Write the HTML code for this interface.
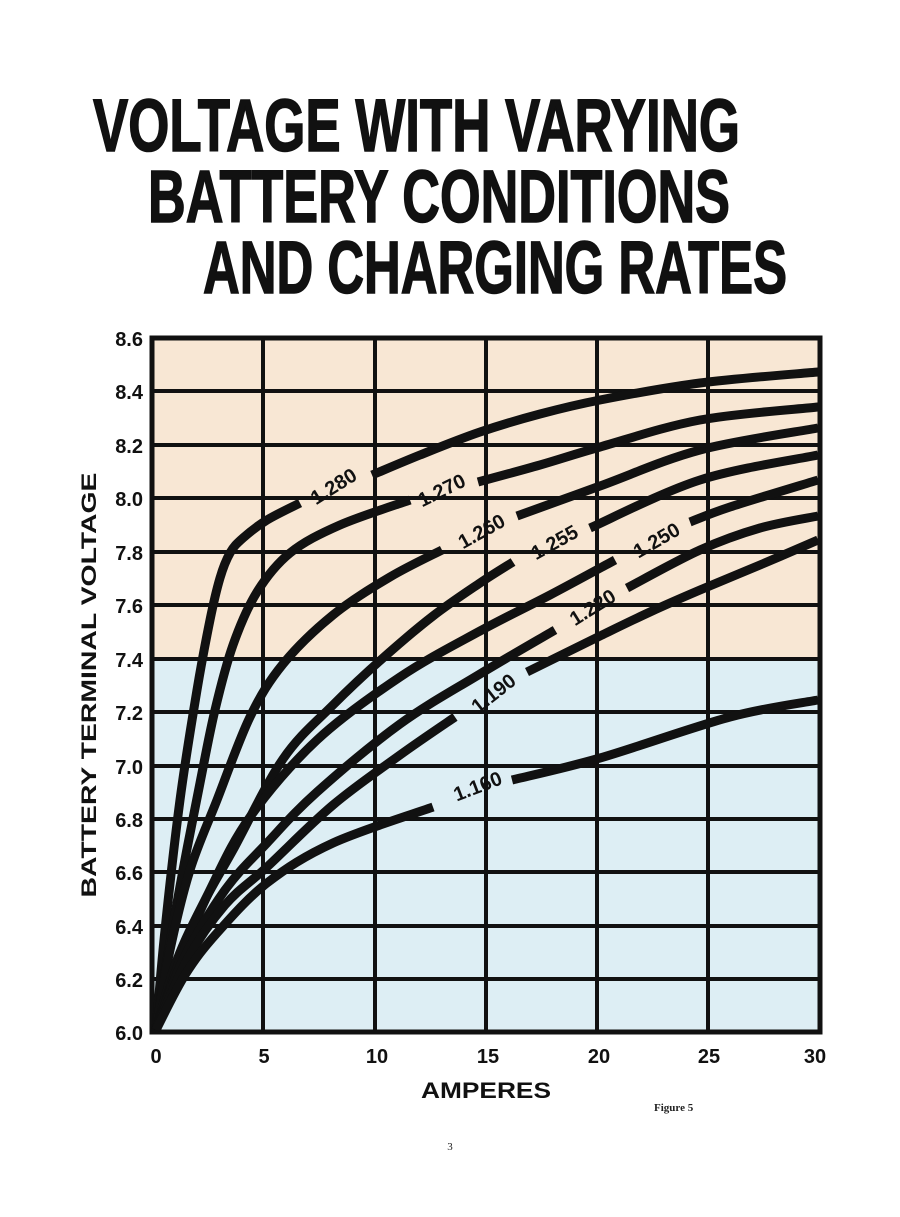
<!DOCTYPE html>
<html><head><meta charset="utf-8"><style>
html,body{margin:0;padding:0;background:#fff;}
svg{display:block;}
</style></head><body>
<svg id="s" width="900" height="1217" viewBox="0 0 900 1217" xmlns="http://www.w3.org/2000/svg">
<rect width="900" height="1217" fill="#fff"/>
<g font-family="Liberation Sans, sans-serif" font-weight="bold" fill="#111" stroke="#111" stroke-width="1.5">
<text x="93" y="151" font-size="74" textLength="647" lengthAdjust="spacingAndGlyphs">VOLTAGE WITH VARYING</text>
<text x="148" y="222" font-size="74" textLength="582" lengthAdjust="spacingAndGlyphs">BATTERY CONDITIONS</text>
<text x="203" y="293" font-size="74" textLength="584" lengthAdjust="spacingAndGlyphs">AND CHARGING RATES</text>
</g>
<rect x="152" y="338" width="668" height="321" fill="#f8e7d4"/>
<rect x="152" y="659" width="668" height="373" fill="#ddeef4"/>
<g stroke="#111" stroke-width="4">
<line x1="152" y1="391" x2="820" y2="391"/>
<line x1="152" y1="445" x2="820" y2="445"/>
<line x1="152" y1="498" x2="820" y2="498"/>
<line x1="152" y1="552" x2="820" y2="552"/>
<line x1="152" y1="605" x2="820" y2="605"/>
<line x1="152" y1="659" x2="820" y2="659"/>
<line x1="152" y1="712" x2="820" y2="712"/>
<line x1="152" y1="766" x2="820" y2="766"/>
<line x1="152" y1="819" x2="820" y2="819"/>
<line x1="152" y1="872" x2="820" y2="872"/>
<line x1="152" y1="926" x2="820" y2="926"/>
<line x1="152" y1="979" x2="820" y2="979"/>
<line x1="263" y1="338" x2="263" y2="1032"/>
<line x1="375" y1="338" x2="375" y2="1032"/>
<line x1="486" y1="338" x2="486" y2="1032"/>
<line x1="597" y1="338" x2="597" y2="1032"/>
<line x1="708" y1="338" x2="708" y2="1032"/>
</g>
<rect x="152" y="338" width="668" height="694" fill="none" stroke="#111" stroke-width="5"/>
<g id="curves" fill="none" stroke="#111" stroke-width="9" stroke-linejoin="round" stroke-linecap="butt">
<polyline points="156,1030 165,930 180,800 197,690 210,620 220,578 230,553 243,538 267,520 300,503"/>
<polyline points="372,475 420,455 480,432 540,414 600,400 700,383 818,372"/>
<polyline points="156,1030 167,960 183,870 200,783 215,710 233,645 257,592 290,553 340,525 410,500"/>
<polyline points="478,482 540,465 600,447 700,420 818,407"/>
<polyline points="156,1030 170,950 190,870 217,800 250,717 283,664 333,615 390,577 442,550"/>
<polyline points="517,516 600,486 700,450 818,428"/>
<polyline points="156,1030 177,960 205,900 233,850 283,759 333,705 383,658 433,616 480,583 513,562"/>
<polyline points="590,528 700,480 818,455"/>
<polyline points="156,1030 180,960 210,890 250,817 317,740 400,677 480,631 550,595 615,560"/>
<polyline points="690,522 730,507 818,480"/>
<polyline points="156,1030 183,960 225,890 267,843 317,792 400,724 480,674 555,630"/>
<polyline points="627,588 700,550 760,528 818,516"/>
<polyline points="156,1030 187,960 225,905 267,867 333,805 400,755 455,717"/>
<polyline points="527,672 600,636 650,612 700,590 760,565 818,540"/>
<polyline points="156,1030 185,975 217,933 267,883 333,843 433,807"/>
<polyline points="512,780 600,758 730,717 818,700"/>
</g>
<g font-family="Liberation Sans, sans-serif" font-weight="bold" font-size="20" fill="#111" text-anchor="middle" dominant-baseline="central">
<text transform="translate(334,487) rotate(-32)">1.280</text>
<text transform="translate(442,491) rotate(-26)">1.270</text>
<text transform="translate(482,532) rotate(-29)">1.260</text>
<text transform="translate(555,543) rotate(-29)">1.255</text>
<text transform="translate(657,541) rotate(-30)">1.250</text>
<text transform="translate(593,608) rotate(-32)">1.220</text>
<text transform="translate(494,694) rotate(-38)">1.190</text>
<text transform="translate(478,787) rotate(-21)">1.160</text>
</g>
<g font-family="Liberation Sans, sans-serif" font-weight="bold" font-size="20" fill="#111" text-anchor="end">
<text x="143" y="346">8.6</text>
<text x="143" y="399">8.4</text>
<text x="143" y="453">8.2</text>
<text x="143" y="506">8.0</text>
<text x="143" y="560">7.8</text>
<text x="143" y="613">7.6</text>
<text x="143" y="667">7.4</text>
<text x="143" y="720">7.2</text>
<text x="143" y="774">7.0</text>
<text x="143" y="827">6.8</text>
<text x="143" y="880">6.6</text>
<text x="143" y="934">6.4</text>
<text x="143" y="987">6.2</text>
<text x="143" y="1040">6.0</text>
</g>
<g font-family="Liberation Sans, sans-serif" font-weight="bold" font-size="20" fill="#111" text-anchor="middle">
<text x="156" y="1063">0</text>
<text x="264" y="1063">5</text>
<text x="377" y="1063">10</text>
<text x="488" y="1063">15</text>
<text x="599" y="1063">20</text>
<text x="709" y="1063">25</text>
<text x="815" y="1063">30</text>
<text x="486" y="1098" font-size="22" textLength="130" lengthAdjust="spacingAndGlyphs">AMPERES</text>
<text transform="translate(96,685) rotate(-90)" font-size="21" textLength="425" lengthAdjust="spacingAndGlyphs">BATTERY TERMINAL VOLTAGE</text>
</g>
<text x="654" y="1111" font-family="Liberation Serif, serif" font-weight="bold" font-size="11" fill="#222">Figure 5</text>
<text x="450" y="1150" font-family="Liberation Serif, serif" font-size="11" fill="#222" text-anchor="middle">3</text>
</svg>
<script>
(function(){
var g=document.getElementById('curves');
var pls=g.querySelectorAll('polyline');
for(var i=0;i<pls.length;i++){
 var pl=pls[i];
 var pts=pl.getAttribute('points').trim().split(/\s+/).map(function(s){var a=s.split(',');return [+a[0],+a[1]];});
 var d='M'+pts[0][0]+','+pts[0][1];
 for(var k=0;k<pts.length-1;k++){
  var p0=pts[k>0?k-1:k],p1=pts[k],p2=pts[k+1],p3=pts[k+2<pts.length?k+2:k+1];
  var c1x=p1[0]+(p2[0]-p0[0])/6,c1y=p1[1]+(p2[1]-p0[1])/6;
  var c2x=p2[0]-(p3[0]-p1[0])/6,c2y=p2[1]-(p3[1]-p1[1])/6;
  d+=' C'+c1x.toFixed(1)+','+c1y.toFixed(1)+' '+c2x.toFixed(1)+','+c2y.toFixed(1)+' '+p2[0]+','+p2[1];
 }
 var p=document.createElementNS('http://www.w3.org/2000/svg','path');
 p.setAttribute('d',d);
 g.replaceChild(p,pl);
}
})();
</script>
</body></html>
